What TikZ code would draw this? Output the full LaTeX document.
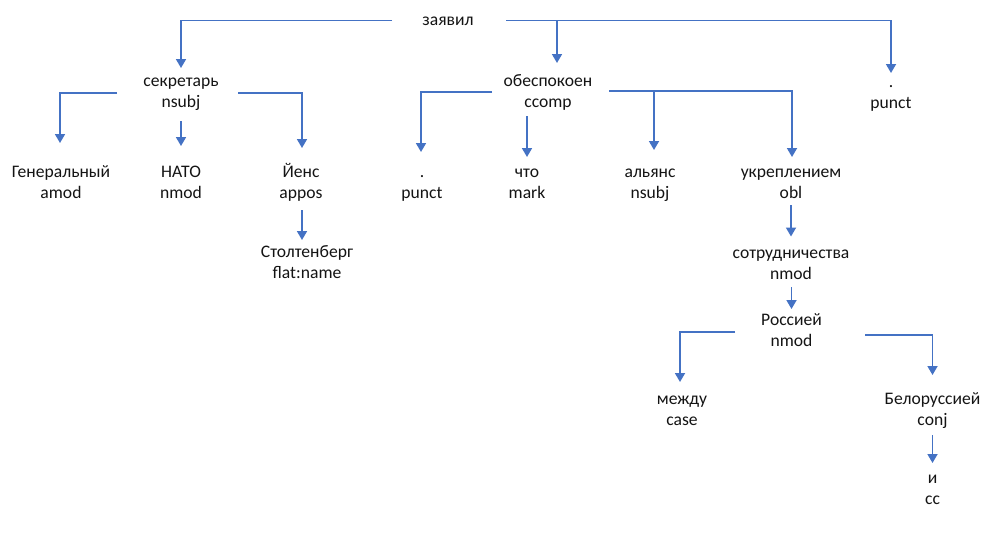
\documentclass[tikz,border=0pt]{standalone}
\usepackage{fontspec}
\setmainfont{Carlito}
\usetikzlibrary{arrows.meta,calc}
\definecolor{lnblue}{HTML}{4472C4}
\definecolor{txt}{HTML}{141414}
\tikzset{
  w/.style={align=center, inner sep=0pt, outer sep=0pt, text=txt,
    font=\fontsize{17.6}{21}\selectfont},
  arr/.style={draw=lnblue, line width=1.7pt, -{Triangle[width=10pt,length=9pt]}},
}
\begin{document}
\begin{tikzpicture}[x=1pt,y=-1pt]
\useasboundingbox[fill=white] (0,0) rectangle (984,539);
% nodes
\node[w] (root)  at (448,21)    {\strut заявил};
\node[w] (sek)   at (181,92.5)  {\strut секретарь\\\strut nsubj};
\node[w] (gen)   at (61,184)    {\strut Генеральный\\\strut amod};
\node[w] (nato)  at (181,184)   {\strut НАТО\\\strut nmod};
\node[w] (iens)  at (301,184)   {\strut Йенс\\\strut appos};
\node[w] (stolt) at (307,264)   {\strut Столтенберг\\\strut flat:name};
\node[w] (pa)    at (422,183.5) {\strut .\\\strut punct};
\node[w] (obes)  at (548,93)    {\strut обеспокоен\\\strut ccomp};
\node[w] (chto)  at (527,184)   {\strut что\\\strut mark};
\node[w] (al)    at (650,184)   {\strut альянс\\\strut nsubj};
\node[w] (ukr)   at (791,184)   {\strut укреплением\\\strut obl};
\node[w] (pb)    at (891,94)    {\strut .\\\strut punct};
\node[w] (sotr)  at (791,264.5) {\strut сотрудничества\\\strut nmod};
\node[w] (ros)   at (791.5,332) {\strut Россией\\\strut nmod};
\node[w] (mezh)  at (682,410.5) {\strut между\\\strut case};
\node[w] (bel)   at (932.5,410.5) {\strut Белоруссией\\\strut conj};
\node[w] (ii)    at (932.5,489.5) {\strut и\\\strut cc};
% connectors
\draw[arr] ($(root)+(-56,-0.5)$) -| ($(sek)+(0,-24.5)$);
\draw[arr] ($(root)+(58,-0.5)$) -| ($(pb)+(0,-21)$);
\draw[arr] ($(root)+(109,-0.5)$) -- ($(obes)+(9,-30)$);
\draw[arr] ($(sek)+(-64,0.5)$) -| ($(gen)+(-1,-41)$);
\draw[arr] ($(sek)+(0,28.5)$) -- ($(nato)+(0,-38)$);
\draw[arr] ($(sek)+(57,0.5)$) -| ($(iens)+(1,-36)$);
\draw[arr] ($(iens)+(1,26)$) -- ($(stolt)+(-5,-24)$);
\draw[arr] ($(obes)+(-56,-1)$) -| ($(pa)+(-1,-31.5)$);
\draw[arr] ($(obes)+(-21,23)$) -- ($(chto)+(0,-27)$);
\draw[arr] ($(obes)+(61,-2)$) -| ($(ukr)+(1,-27)$);
\draw[arr] ($(obes)+(106,-2)$) -- ($(al)+(4,-34)$);
\draw[arr] ($(ukr)+(0,21)$) -- ($(sotr)+(0,-28)$);
\draw[arr] ($(sotr)+(0.5,22.5)$) -- ($(ros)+(0,-23)$);
\draw[arr] ($(ros)+(-56.5,0)$) -| ($(mezh)+(-2,-28.5)$);
\draw[arr] ($(ros)+(73.5,3)$) -| ($(bel)+(0,-35.5)$);
\draw[arr] ($(bel)+(0,24.5)$) -- ($(ii)+(0,-26.5)$);
\end{tikzpicture}
\end{document}
